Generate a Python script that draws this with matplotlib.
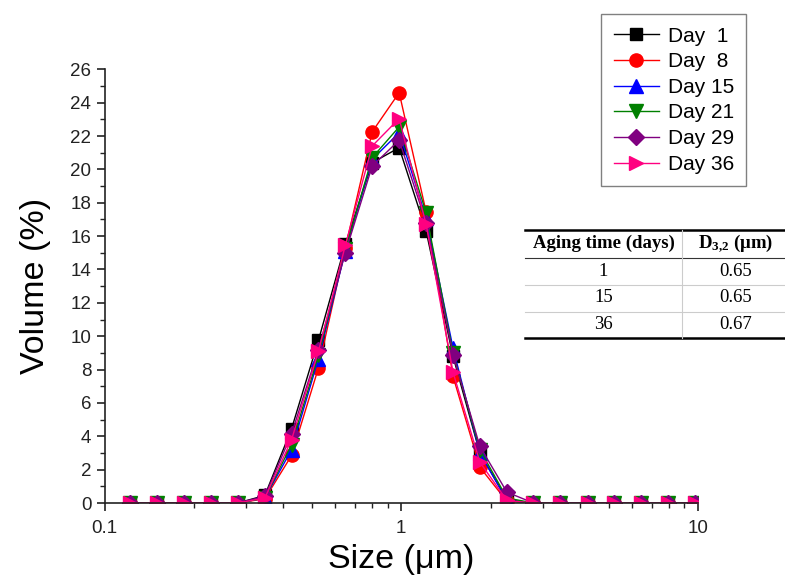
import matplotlib
matplotlib.use("Agg")
import matplotlib.pyplot as plt
from matplotlib.lines import Line2D
from matplotlib.ticker import MultipleLocator, LogLocator, NullFormatter, FixedLocator, FixedFormatter

plt.rcParams['font.family'] = ['Liberation Sans', 'DejaVu Sans']
plt.rcParams['mathtext.fontset'] = 'custom'
plt.rcParams['mathtext.rm'] = 'Liberation Serif'
plt.rcParams['mathtext.bf'] = 'Liberation Serif:bold'
plt.rcParams['mathtext.it'] = 'Liberation Serif:italic'

sizes = [0.122, 0.150, 0.185, 0.228, 0.281, 0.347, 0.427, 0.526, 0.648, 0.798, 0.984,
         1.213, 1.494, 1.84, 2.27, 2.79, 3.44, 4.25, 5.23, 6.44, 7.94, 9.78]

day1  = [0, 0, 0, 0, 0, 0.45, 4.45, 9.75, 15.5, 20.4, 21.3, 16.3, 8.8, 3.0, 0.2, 0, 0, 0, 0, 0, 0, 0]
day8  = [0, 0, 0, 0, 0, 0.25, 2.85, 8.1, 15.3, 22.25, 24.6, 17.45, 7.6, 2.15, 0.1, 0, 0, 0, 0, 0, 0, 0]
day15 = [0, 0, 0, 0, 0, 0.3, 3.2, 8.65, 15.1, 20.6, 22.2, 17.1, 9.3, 3.0, 0.15, 0, 0, 0, 0, 0, 0, 0]
day21 = [0, 0, 0, 0, 0, 0.3, 3.5, 8.85, 15.2, 20.7, 22.55, 17.4, 9.0, 3.2, 0.3, 0, 0, 0, 0, 0, 0, 0]
day29 = [0, 0, 0, 0, 0, 0.4, 4.15, 9.2, 15.0, 20.2, 21.75, 16.8, 8.9, 3.4, 0.65, 0, 0, 0, 0, 0, 0, 0]
day36 = [0, 0, 0, 0, 0, 0.3, 3.8, 9.1, 15.45, 21.4, 23.05, 16.7, 7.85, 2.45, 0.15, 0, 0, 0, 0, 0, 0, 0]

labels = ["Day  1", "Day  8", "Day 15", "Day 21", "Day 29", "Day 36"]
series = [day1, day8, day15, day21, day29, day36]
colors = ["#000000", "#FF0000", "#0000FF", "#008000", "#800080", "#FF0080"]
markers = ["s", "o", "^", "v", "D", ">"]
msizes = [8.5, 9.5, 9.5, 9.5, 8.5, 9.5]

table_header = ["Aging time (days)", r"D$_{\mathbf{3{,}2}}$ (μm)"]
table_days = ["1", "15", "36"]
table_d32 = ["0.65", "0.65", "0.67"]

fig = plt.figure(figsize=(7.85, 5.79), dpi=100)
ax = fig.add_axes([104.5/785, 1-503/579, (698-104.5)/785, (503-69.3)/579])

for y, lab, c, m, ms in zip(series, labels, colors, markers, msizes):
    ax.plot(sizes, y, color=c, marker=m, markersize=ms, linewidth=1.0, label=lab)

ax.set_xscale('log')
ax.set_xlim(0.1, 10)
ax.set_ylim(0, 26)
ax.xaxis.set_major_locator(FixedLocator([0.1, 1, 10]))
ax.xaxis.set_major_formatter(FixedFormatter(["0.1", "1", "10"]))
ax.xaxis.set_minor_locator(LogLocator(base=10, subs=range(2, 10)))
ax.xaxis.set_minor_formatter(NullFormatter())
ax.yaxis.set_major_locator(MultipleLocator(2))
ax.yaxis.set_minor_locator(MultipleLocator(1))
for s in ['top', 'right']:
    ax.spines[s].set_visible(False)
for s in ['left', 'bottom']:
    ax.spines[s].set_linewidth(1.2)
    ax.spines[s].set_color('#222222')
ax.tick_params(which='major', direction='out', length=6, width=1.2, labelsize=13.5, colors='#222222')
ax.tick_params(which='minor', direction='out', length=3.5, width=1.0, colors='#222222')
ax.tick_params(axis='x', pad=6)

ax.set_xlabel("Size (μm)", fontsize=24.5, labelpad=5)
ax.set_ylabel("Volume (%)", fontsize=24.5, labelpad=14)

leg = fig.legend(loc='upper left', bbox_to_anchor=(601/785, 1-14/579), fontsize=15,
                 frameon=True, fancybox=False, edgecolor='#808080', framealpha=1,
                 handlelength=2.2, handletextpad=0.4, labelspacing=0.32, borderpad=0.6,
                 borderaxespad=0)
leg.get_frame().set_linewidth(1.0)

# table
def fx(px):
    return px / 785
def fy(py):
    return 1 - py / 579

x0, xs, x1 = 525, 682, 785
fig.add_artist(Line2D([fx(x0), fx(x1)], [fy(230), fy(230)], color='black', lw=1.8))
fig.add_artist(Line2D([fx(x0), fx(x1)], [fy(257.5), fy(257.5)], color='#333333', lw=0.8))
fig.add_artist(Line2D([fx(x0), fx(x1)], [fy(284.5), fy(284.5)], color='#cccccc', lw=0.8))
fig.add_artist(Line2D([fx(x0), fx(x1)], [fy(311.5), fy(311.5)], color='#cccccc', lw=0.8))
fig.add_artist(Line2D([fx(x0), fx(x1)], [fy(337.5), fy(337.5)], color='black', lw=1.8))
fig.add_artist(Line2D([fx(xs), fx(xs)], [fy(230), fy(337.5)], color='#cccccc', lw=0.8))

c1 = (x0 + xs) / 2
c2 = (xs + x1) / 2 + 2
tfont = ['Liberation Serif', 'DejaVu Serif']
fig.text(fx(c1), fy(243.5), table_header[0], ha='center', va='center', fontsize=13.5,
         fontweight='bold', family=tfont)
fig.text(fx(c2), fy(243.5), table_header[1], ha='center', va='center', fontsize=13.5,
         fontweight='bold', family=tfont)
row_y = [271, 298, 324.5]
for ry, d, v in zip(row_y, table_days, table_d32):
    fig.text(fx(c1), fy(ry), d, ha='center', va='center', fontsize=13.5, family=tfont)
    fig.text(fx(c2), fy(ry), v, ha='center', va='center', fontsize=13.5, family=tfont)

fig.savefig("out.png", dpi=100)
